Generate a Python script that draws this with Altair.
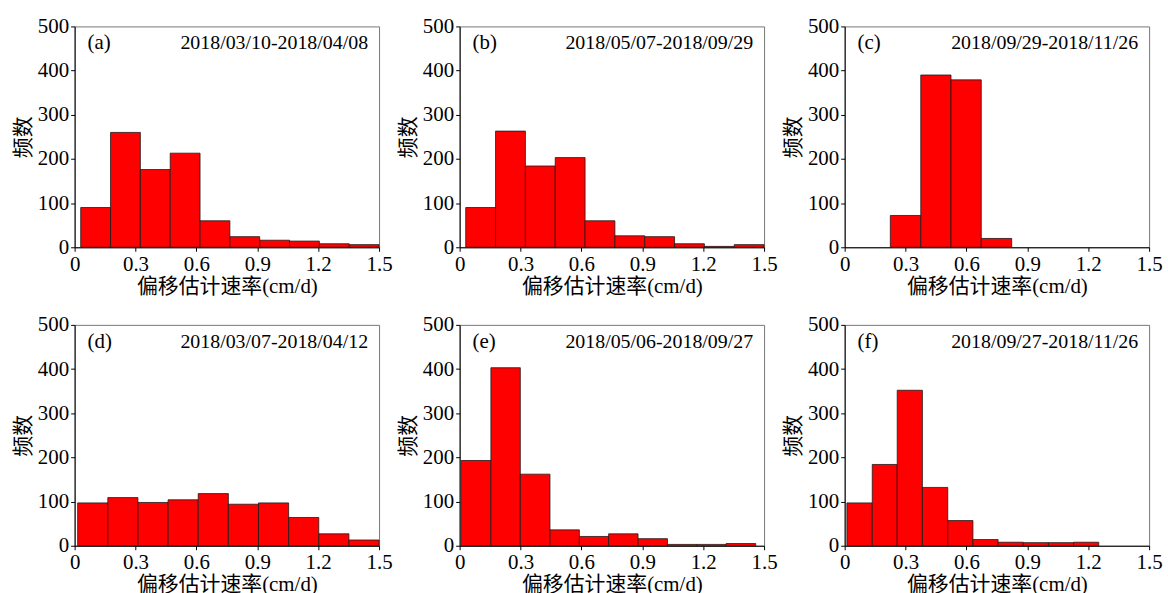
import altair as alt
import pandas as pd

# ---- data ----
panel_tags = ["(a)", "(b)", "(c)", "(d)", "(e)", "(f)"]
panel_dates = [
    "2018/03/10-2018/04/08",
    "2018/05/07-2018/09/29",
    "2018/09/29-2018/11/26",
    "2018/03/07-2018/04/12",
    "2018/05/06-2018/09/27",
    "2018/09/27-2018/11/26",
]

edges_a = [0.030, 0.177, 0.324, 0.471, 0.618, 0.765, 0.912, 1.059, 1.206, 1.353, 1.500]
counts_a = [90, 260, 176, 213, 60, 24, 16, 14, 8, 6]

edges_b = [0.030, 0.177, 0.324, 0.471, 0.618, 0.765, 0.912, 1.059, 1.206, 1.353, 1.500]
counts_b = [90, 263, 184, 203, 60, 26, 24, 8, 2, 6]

edges_c = [0.225, 0.375, 0.524, 0.673, 0.823]
counts_c = [72, 390, 379, 20]

edges_d = [0.015, 0.1635, 0.312, 0.4605, 0.609, 0.7575, 0.906, 1.0545, 1.203, 1.3515, 1.500]
counts_d = [97, 109, 98, 104, 118, 94, 97, 64, 27, 13]

edges_e = [0.008, 0.154, 0.299, 0.445, 0.590, 0.734, 0.879, 1.024, 1.169, 1.313, 1.459]
counts_e = [193, 403, 162, 36, 21, 27, 16, 3, 3, 5]

edges_f = [0.011, 0.136, 0.259, 0.383, 0.508, 0.632, 0.756, 0.880, 1.004, 1.128, 1.252]
counts_f = [97, 184, 352, 132, 57, 14, 8, 7, 7, 8]

x_ticks = [0, 0.3, 0.6, 0.9, 1.2, 1.5]
y_ticks = [0, 100, 200, 300, 400, 500]
x_title = "偏移估计速率(cm/d)"
y_title = "频数"

all_edges = [edges_a, edges_b, edges_c, edges_d, edges_e, edges_f]
all_counts = [counts_a, counts_b, counts_c, counts_d, counts_e, counts_f]

SERIF = "Liberation Serif, Noto Sans CJK SC"
W, H = 306, 222


def panel(edges, counts, tag, date):
    df = pd.DataFrame({
        "x0": edges[:-1],
        "x1": edges[1:],
        "n": counts,
    })
    xs = alt.Scale(domain=[0, 1.5], nice=False, zero=False)
    ys = alt.Scale(domain=[0, 500], nice=False)
    bars = alt.Chart(df).mark_rect(
        fill="#ff0000", stroke="#1a1a1a", strokeWidth=0.8
    ).encode(
        x=alt.X("x0:Q", scale=xs,
                axis=alt.Axis(values=x_ticks, format="~g", title=x_title)),
        x2="x1:Q",
        y=alt.Y("n:Q", scale=ys,
                axis=alt.Axis(values=y_ticks, title=y_title)),
        y2=alt.datum(0),
    )
    tag_txt = alt.Chart(pd.DataFrame({"t": [tag]})).mark_text(
        align="left", baseline="alphabetic", font=SERIF, fontSize=21, color="black"
    ).encode(x=alt.value(13), y=alt.value(23), text="t:N")
    date_txt = alt.Chart(pd.DataFrame({"t": [date]})).mark_text(
        align="right", baseline="alphabetic", font=SERIF, fontSize=20, color="black"
    ).encode(x=alt.value(W - 11), y=alt.value(23), text="t:N")
    return alt.layer(bars, tag_txt, date_txt).properties(width=W, height=H)


panels = [panel(e, c, t, d) for e, c, t, d in zip(all_edges, all_counts, panel_tags, panel_dates)]

chart = alt.ConcatChart(
    concat=panels,
    columns=3,
    spacing={"row": 78, "column": 81},
    bounds="flush",
).properties(
    padding={"left": 12, "top": 13, "right": 5, "bottom": 5},
    background="white",
).configure_view(
    stroke="#777777", strokeWidth=1
).configure_axis(
    grid=False,
    labelFont=SERIF,
    labelFontSize=21,
    labelColor="black",
    labelPadding=2,
    labelFlush=False,
    labelOverlap=False,
    tickSize=4,
    tickColor="black",
    domainColor="black",
    titleFont=SERIF,
    titleFontSize=21,
    titleFontWeight="normal",
    titleColor="black",
).configure_axisX(
    titlePadding=1,
).configure_axisY(
    titlePadding=4,
)

chart.save("out.html", embed_options={"renderer": "svg", "actions": False})
